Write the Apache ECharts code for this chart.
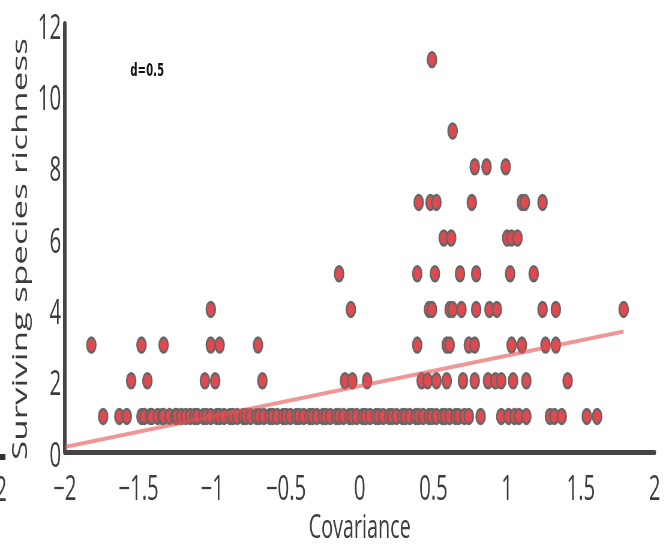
<!DOCTYPE html>
<html>
<head>
<meta charset="utf-8">
<script src="https://cdn.jsdelivr.net/npm/echarts@6/dist/echarts.min.js"></script>
<style>
html,body{margin:0;padding:0;overflow:hidden;background:#fff;width:671px;height:550px;}
#wrap{width:671px;height:550px;overflow:hidden;position:relative;}
#chart{width:1118px;height:550px;transform:scaleX(0.6);transform-origin:0 0;position:absolute;left:0;top:0;}
</style>
</head>
<body>
<div id="wrap"><div id="chart"></div></div>
<script>
// Tick labels
const xTickLabels = ['\u22122', '\u22121.5', '\u22121', '\u22120.5', '0', '0.5', '1', '1.5', '2'];
const xTickValues = [-2, -1.5, -1, -0.5, 0, 0.5, 1, 1.5, 2];
const yTickLabels = ['0', '2', '4', '6', '8', '10', '12'];
const yTickValues = [0, 2, 4, 6, 8, 10, 12];

// Covariance values of the points, grouped by surviving species richness
const richness11 = [0.49];
const richness9 = [0.63];
const richness8 = [0.78, 0.86, 0.99];
const richness7 = [0.40, 0.48, 0.52, 0.76, 1.10, 1.12, 1.24];
const richness6 = [0.57, 0.62, 1.00, 1.03, 1.07];
const richness5 = [-0.14, 0.39, 0.51, 0.68, 0.79, 1.02, 1.18];
const richness4 = [-1.01, -0.06, 0.47, 0.49, 0.61, 0.63, 0.69, 0.79, 0.88, 0.93, 1.24, 1.33, 1.79];
const richness3 = [-1.82, -1.48, -1.33, -1.01, -0.95, -0.69, 0.39, 0.59, 0.61, 0.74, 0.78, 1.03, 1.10, 1.26, 1.33];
const richness2 = [-1.55, -1.44, -1.05, -0.98, -0.66, -0.10, -0.05, 0.05, 0.42, 0.46, 0.52, 0.59, 0.70, 0.78, 0.87, 0.92, 0.96, 1.04, 1.13, 1.41];
const richness1 = [-1.74, -1.63, -1.58,
  -1.48, -1.46, -1.42, -1.41, -1.37, -1.34, -1.33, -1.29, -1.25, -1.24, -1.21, -1.18, -1.15, -1.12, -1.10,
  -1.06, -1.04, -1.01, -0.97, -0.95, -0.92, -0.88, -0.86, -0.83, -0.79, -0.77, -0.74, -0.70, -0.68, -0.65,
  -0.61, -0.59, -0.56, -0.52, -0.50, -0.47, -0.43, -0.41, -0.38, -0.34, -0.32, -0.29, -0.25, -0.23, -0.20,
  -0.16, -0.14, -0.11, -0.07, -0.05, -0.02, 0.02, 0.04, 0.07, 0.11, 0.13, 0.16, 0.20, 0.22, 0.25, 0.29,
  0.31, 0.34, 0.38, 0.40, 0.43, 0.47, 0.49, 0.52, 0.56, 0.58, 0.61, 0.65, 0.67, 0.71, 0.74,
  0.82, 0.96, 1.01, 1.05, 1.08, 1.13, 1.29, 1.32, 1.37, 1.54, 1.61];

// Fitted regression line endpoints
const fitX = [-2, 1.79];
const fitY = [0.14, 3.38];

const groups = [
  [1, richness1], [2, richness2], [3, richness3], [4, richness4], [5, richness5],
  [6, richness6], [7, richness7], [8, richness8], [9, richness9], [11, richness11]
];
const pointData = [];
groups.forEach(function (g) { g[1].forEach(function (x) { pointData.push([x, g[0]]); }); });
const fitData = fitX.map(function (x, i) { return [x, fitY[i]]; });

const FONT = '"Open Sans", "DejaVu Sans", sans-serif';
const chart = echarts.init(document.getElementById('chart'), null, { renderer: 'canvas' });
chart.setOption({
  animation: false,
  backgroundColor: '#fff',
  grid: { left: 108, right: 27, top: 24, bottom: 97, containLabel: false },
  xAxis: {
    type: 'value', min: -2, max: 2, interval: 0.5,
    name: 'Covariance', nameLocation: 'middle', nameGap: 53,
    nameTextStyle: { fontFamily: FONT, fontSize: 33, color: '#3c3c3c' },
    axisLine: { show: true, onZero: false, lineStyle: { color: '#444', width: 5 } },
    axisTick: { show: false },
    splitLine: { show: false },
    axisLabel: {
      fontFamily: FONT, fontSize: 34, color: '#3c3c3c', margin: 21,
      showMinLabel: true, showMaxLabel: true,
      formatter: function (v) { const i = xTickValues.findIndex(function (t) { return Math.abs(t - v) < 1e-9; }); return i >= 0 ? xTickLabels[i] : ''; }
    }
  },
  yAxis: {
    type: 'value', min: 0, max: 12, interval: 2,
    name: 'Surviving species richness', nameLocation: 'middle', nameGap: 48,
    nameTextStyle: { fontFamily: FONT, fontSize: 35, color: '#3c3c3c', padding: [0, 22, 0, 0] },
    axisLine: { show: true, onZero: false, lineStyle: { color: '#444', width: 6 } },
    axisTick: { show: false },
    splitLine: { show: false },
    axisLabel: {
      fontFamily: FONT, fontSize: 34, color: '#3c3c3c', margin: 6,
      verticalAlign: 'top', lineHeight: 10,
      formatter: function (v) { const i = yTickValues.indexOf(v); return i >= 0 ? yTickLabels[i] : ''; }
    }
  },
  graphic: [
    { type: 'text', left: 217, top: 63, style: { text: 'd=0.5', font: 'bold 17px "DejaVu Sans", "Liberation Sans", sans-serif', fill: '#111' } },
    { type: 'text', left: -8, top: 474, style: { text: '2', font: '34px ' + FONT, fill: '#3c3c3c' } },
    { type: 'rect', shape: { x: 0, y: 454, width: 9, height: 6 }, style: { fill: '#333' } }
  ],
  series: [
    {
      type: 'scatter', data: pointData, symbol: 'circle', symbolSize: 15,
      itemStyle: { color: '#E0494F', borderColor: '#666666', borderWidth: 2.5, opacity: 1 },
      z: 2
    },
    {
      type: 'line', data: fitData, symbol: 'none', silent: true,
      lineStyle: { color: 'rgba(228,80,80,0.6)', width: 4 },
      z: 3
    }
  ]
});
</script>
</body>
</html>
